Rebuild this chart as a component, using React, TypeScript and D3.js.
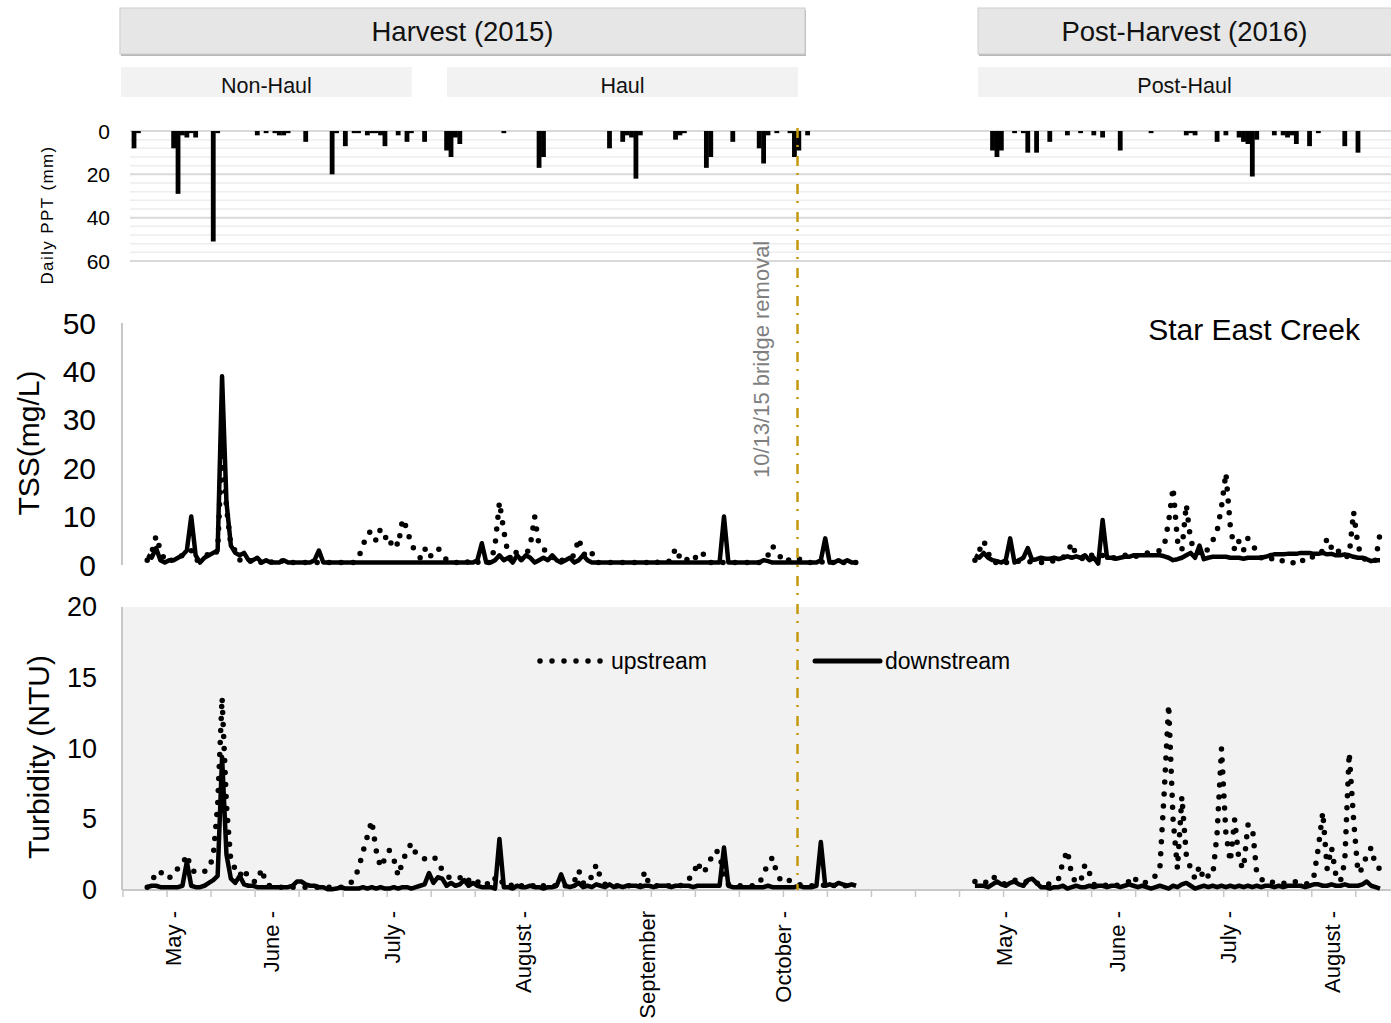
import * as d3 from 'd3';

const FONT = "'Liberation Sans', Arial, Helvetica, sans-serif";

// Excel style category axis: one slot per sampling day, both seasons share it
const dayCount = 288;
const first2015 = 5;
const first2016 = 193;

// TSS (mg/L), 2015 season, one value per day slot from first2015
const tssUp2015 = [
  1, 2.5, 6, 3, 1, 0.5, 1.5, 1.5, 2, 2,
  3, 1, 1, 1.5, 2.5, 2, 3, 25, 12, 4,
  3, 1, 1.5, 1, 0.5, 1, 0.5, 1, 0.5, 1,
  0.5, 1, 0.5, 0.5, 0.5, 0.5, 0.5, 0.5, 0.5, 0.5,
  0.5, 0.5, 0.5, 0.5, 0.5, 0.5, 0.5, 0.5, 1.5, 4,
  6.5, 7, 5, 7.5, 6, 4, 5.5, 4, 9.5, 7.5,
  4, 3, 1.5, 3.5, 1.5, 2.5, 3.5, 2.5, 1, 0.5,
  0.5, 0.5, 1, 0.5, 1, 0.5, 1, 0.5, 0.5, 4,
  13, 7, 2, 1, 3, 1, 2, 4, 10, 4,
  3.5, 2, 1.5, 2, 1, 1, 1.5, 2, 5.5, 2.5,
  1.5, 2.5, 0.5, 0.5, 0.5, 0.5, 0.5, 0.5, 0.5, 0.5,
  0.5, 0.5, 0.5, 0.5, 0.5, 1, 0.5, 0.5, 0.5, 1,
  3.5, 1.5, 2, 0.5, 1, 2, 2.8, 1, 0.5, 0.5,
  0.5, 0.5, 0.5, 0.5, 0.5, 0.5, 0.5, 0.5, 0.5, 0.5,
  1, 2, 4, 2.5, 1.5, 0.5, 1.3, 1, 1.3, 0.5,
  0.5, 0.5, 0.5, 0.5, 1, 0.5, 0.5, 1, 0.5, 0.5,
  0.5, 0.5,
];
const tssDown2015 = [
  2, 1.5, 3.5, 1, 0.5, 1, 1, 1.5, 2, 3,
  10, 2, 0.5, 1.5, 2, 2.5, 3, 39, 13, 4,
  2.5, 2, 2.5, 1, 1, 1.5, 0.5, 1, 0.5, 0.5,
  0.5, 1, 0.5, 0.5, 0.5, 0.5, 0.5, 0.5, 1, 3,
  0.5, 0.5, 0.5, 0.5, 0.5, 0.5, 0.5, 0.5, 0.5, 0.5,
  0.5, 0.5, 0.5, 0.5, 0.5, 0.5, 0.5, 0.5, 0.5, 0.5,
  0.5, 0.5, 0.5, 0.5, 0.5, 0.5, 0.5, 0.5, 0.5, 0.5,
  0.5, 0.5, 0.5, 0.5, 0.5, 1, 4.5, 0.5, 0.5, 1,
  2, 1, 1.5, 0.5, 2, 1, 2, 1.5, 0.5, 1,
  1.5, 1, 2, 1, 0.5, 1, 1.5, 0.5, 1, 2,
  1, 0.5, 0.5, 0.5, 0.5, 0.5, 0.5, 0.5, 0.5, 0.5,
  0.5, 0.5, 0.5, 0.5, 0.5, 0.5, 0.5, 0.5, 0.5, 0.5,
  0.5, 0.5, 0.5, 0.5, 0.5, 0.5, 0.5, 0.5, 0.5, 0.5,
  0.5, 10, 0.5, 0.5, 0.5, 0.5, 0.5, 0.5, 0.5, 0.5,
  1, 0.8, 0.5, 0.5, 0.5, 0.5, 0.5, 0.5, 0.5, 0.5,
  0.5, 0.5, 0.5, 1, 5.5, 0.5, 0.5, 1, 0.5, 1,
  0.5, 0.5,
];
// Turbidity (NTU), 2015
const turbUp2015 = [
  0.2, 0.5, 1.3, 1.3, 0.9, 0.8, 1.4, 1.5, 1.8, 2.5,
  1.5, 1.2, 1.3, 1.3, 1.5, 2.4, 6, 13.6, 6, 2,
  1.5, 1, 1.5, 0.8, 0.6, 0.6, 1.5, 0.4, 0.3, 0.3,
  0.2, 0.2, 0.2, 0.2, 0.2, 0.2, 0.2, 0.2, 0.2, 0.2,
  0.2, 0.2, 0.2, 0.2, 0.2, 0.2, 0.4, 0.8, 1.5, 2.7,
  3.8, 4.9, 2.8, 1.6, 2.2, 2.8, 2.2, 1, 2, 2.8,
  3.3, 2.6, 2.5, 2.2, 2.3, 2.4, 2, 1.4, 1, 0.8,
  0.8, 0.9, 0.5, 0.7, 0.4, 0.6, 0.3, 0.5, 0.3, 0.8,
  1, 0.3, 0.4, 0.3, 0.5, 0.3, 0.4, 0.3, 0.3, 0.5,
  0.3, 0.4, 0.3, 0.3, 0.5, 0.3, 0.4, 0.6, 1.4, 0.5,
  0.4, 1, 1.8, 0.8, 0.4, 0.3, 0.3, 0.3, 0.3, 0.3,
  0.3, 0.4, 0.3, 1.3, 0.4, 0.3, 0.3, 0.3, 0.3, 0.3,
  0.3, 0.3, 0.4, 0.8, 1, 2, 1.2, 1.5, 2.2, 2.8,
  2.6, 0.8, 0.4, 0.3, 0.3, 0.3, 0.3, 0.3, 0.3, 0.4,
  1.2, 1.8, 2.3, 1.2, 0.6, 0.5, 0.7, 0.5, 0.4, 0.3,
  0.3, 0.3, 0.3, 0.4, 0.3, 0.5, 0.3, 0.4, 0.3, 0.3,
  0.4, 0.3,
];
const turbDown2015 = [
  0.2, 0.3, 0.3, 0.2, 0.2, 0.2, 0.2, 0.2, 0.3, 2,
  0.3, 0.2, 0.2, 0.3, 0.5, 0.7, 1, 9.4, 2.5, 0.8,
  0.5, 1, 0.4, 0.3, 0.3, 0.2, 0.2, 0.2, 0.2, 0.2,
  0.2, 0.2, 0.2, 0.3, 0.6, 0.6, 0.4, 0.3, 0.3, 0.2,
  0.2, 0.05, 0.05, 0.1, 0.2, 0.1, 0.1, 0.1, 0.1, 0.2,
  0.1, 0.2, 0.1, 0.2, 0.1, 0.1, 0.2, 0.1, 0.2, 0.2,
  0.1, 0.2, 0.3, 0.4, 1.2, 0.5, 0.9, 0.8, 0.3, 0.5,
  0.3, 0.4, 0.7, 0.3, 0.5, 0.3, 0.2, 0.2, 0.2, 0.1,
  3.6, 0.2, 0.2, 0.1, 0.3, 0.2, 0.2, 0.3, 0.2, 0.2,
  0.1, 0.2, 0.2, 0.3, 1.1, 0.3, 0.2, 0.3, 0.5, 0.2,
  0.3, 0.2, 0.4, 0.3, 0.2, 0.4, 0.2, 0.3, 0.2, 0.3,
  0.3, 0.3, 0.2, 0.3, 0.3, 0.2, 0.3, 0.3, 0.3, 0.2,
  0.3, 0.3, 0.3, 0.3, 0.2, 0.3, 0.3, 0.3, 0.3, 0.3,
  0.3, 3, 0.3, 0.2, 0.2, 0.2, 0.2, 0.2, 0.2, 0.2,
  0.2, 0.3, 0.2, 0.2, 0.2, 0.2, 0.2, 0.2, 0.3, 0.2,
  0.2, 0.2, 0.3, 3.4, 0.3, 0.4, 0.3, 0.5, 0.4, 0.3,
  0.4, 0.3,
];

// 2016 season, one value per day slot from first2016
const tssUp2016 = [
  1, 3, 5, 2.5, 0.5, 0.5, 1, 0.5, 0.5, 0.5,
  0.8, 0.5, 0.5, 0.8, 0.5, 0.5, 0.8, 0.5, 1, 1,
  1.5, 2.5, 4.5, 2, 1.5, 1, 2, 2, 1.5, 2,
  1.5, 1.5, 1.5, 1.5, 2, 2, 1.5, 2, 2, 2.5,
  2.5, 2.8,
  3, 4, 9, 16, 5, 3, 12.5, 5, 3,
  2.5, 2, 3.5, 5, 7, 12, 19, 8, 3, 5,
  3, 5.5, 4.5, 2.5, 1.5, 1, 1.5, 1, 0.5, 1,
  0.5, 0.3, 1, 0.5, 1.5, 2, 1.5, 2, 3, 5.5,
  3.5, 4, 2, 1.5, 2, 11, 4, 1.5, 1, 0.5, 1, 6.5,
];
const tssDown2016 = [
  2, 1.5, 2.5, 1.5, 1, 0.8, 0.5, 1, 5.5, 0.5,
  1, 1.5, 3.5, 1, 1.2, 1.5, 1.3, 1.3, 1.5, 1.2,
  1.5, 1.8, 1.5, 1.8, 1.5, 2, 1, 1.5, 0.3, 9.3,
  1.5, 1.5, 1.3, 1.5, 1.7, 1.7, 2, 2, 2, 2,
  2, 2,
  2, 1.8, 1.5, 1, 1.2, 1.5, 2, 2.5, 1.5,
  4, 1.2, 1.5, 1.7, 1.7, 1.7, 1.7, 1.5, 1.5, 1.5,
  1.3, 1.5, 1.5, 1.5, 1.5, 1.7, 2, 2.2, 2.2, 2.2,
  2.3, 2.3, 2.3, 2.5, 2.5, 2.5, 2.3, 2.3, 2.5, 2.2,
  2.3, 2, 2, 2.2, 2, 1.7, 1.5, 1.5, 1.2, 0.8, 1, 1,
];
const turbUp2016 = [
  0.6, 0.4, 0.5, 0.6, 1, 0.7, 0.5, 0.4, 0.5, 0.7,
  0.6, 0.7, 0.5, 0.6, 0.5, 0.4, 0.5, 0.4, 0.5, 0.8,
  2, 2.8, 1, 0.5, 0.6, 1.8, 1.2, 0.4, 0.3, 0.4,
  0.3, 0.4, 0.3, 0.4, 0.5, 0.6, 1, 0.5, 0.6, 0.5,
  0.7, 1,
  1.5, 7, 13.1, 5, 1.5, 6.6, 2.5, 1.5, 0.8,
  1.7, 0.7, 1, 1, 4, 10, 4, 2, 5, 2,
  1.5, 4.6, 4.5, 1.2, 0.8, 0.5, 0.6, 0.5, 0.4, 0.5,
  0.4, 0.5, 0.6, 0.5, 0.4, 0.5, 1, 3, 5.5, 1.5,
  3, 1, 0.6, 2, 9.7, 5, 1.2, 1.5, 2.5, 3, 1.7, 1.5,
];
const turbDown2016 = [
  0.3, 0.3, 0.3, 0.2, 0.4, 0.6, 0.4, 0.3, 0.5, 0.6,
  0.4, 0.3, 0.7, 0.8, 0.5, 0.2, 0.2, 0.1, 0.2, 0.2,
  0.3, 0.1, 0.2, 0.3, 0.2, 0.2, 0.3, 0.2, 0.3, 0.3,
  0.2, 0.3, 0.3, 0.2, 0.3, 0.4, 0.3, 0.2, 0.3, 0.2,
  0.1, 0.2,
  0.3, 0.2, 0.1, 0.3, 0.2, 0.4, 0.5, 0.3, 0.1,
  0.2, 0.3, 0.2, 0.3, 0.2, 0.3, 0.2, 0.3, 0.2, 0.3,
  0.2, 0.3, 0.2, 0.3, 0.2, 0.3, 0.3, 0.2, 0.3, 0.2,
  0.3, 0.3, 0.3, 0.3, 0.2, 0.3, 0.4, 0.4, 0.3, 0.3,
  0.4, 0.3, 0.3, 0.4, 0.3, 0.3, 0.3, 0.4, 0.6, 0.3, 0.2, 0.1,
];

// daily precipitation (mm): day slot and amount, rainy days only
const pptDay = [
  2, 3, 11, 12, 13, 14, 15, 16, 20, 21,
  30, 32, 34, 35, 36, 37, 41, 47, 48, 50,
  52, 53, 55, 56, 57, 58, 59, 62, 64, 65,
  68, 73, 74, 75, 76, 86, 94, 95, 110, 113,
  114, 115, 116, 117, 125, 126, 127, 132, 133, 138,
  144, 145, 146, 148, 151, 152, 153, 155,
  197, 198, 199, 202, 204, 205, 207, 210, 214, 217,
  220, 222, 226, 233, 241, 242, 243, 248, 250, 253,
  254, 255, 256, 257, 261, 263, 264, 265, 266, 269,
  271, 277, 280,
];
const pptMm = [
  8, 1, 8, 29, 2, 3, 1, 3, 51, 1,
  2, 1, 1, 2, 2, 1, 5, 20, 1, 7,
  1, 1, 2, 1, 1, 2, 7, 2, 5, 1,
  5, 9, 12, 3, 6, 1, 17, 12, 8, 5,
  2, 3, 22, 2, 4, 2, 1, 17, 12, 5,
  8, 15, 2, 1, 1, 12, 9, 2,
  9, 12, 9, 1, 1, 10, 10, 5, 2, 1,
  2, 3, 9, 1, 2, 1, 2, 5, 2, 3,
  5, 6, 21, 4, 2, 2, 3, 2, 6, 7,
  1, 7, 10,
];

const monthNames2015 = ['May -', 'June -', 'July -', 'August -', 'September', 'October -'];
const monthDay2015 = [11.4, 33.8, 61.1, 90.9, 119.2, 150.1];
const monthNames2016 = ['May -', 'June -', 'July -', 'August -'];
const monthDay2016 = [200.3, 225.8, 251.2, 274.8];

const bridgeDay = 153.2;

const periodNames = ['Harvest (2015)', 'Post-Harvest (2016)'];
const periodDays = [[-0.7, 154.9], [194.2, 292]];
const phaseNames = ['Non-Haul', 'Haul', 'Post-Haul'];
const phaseDays = [[-0.45, 65.6], [73.6, 153.3], [194.2, 292]];

const pptTicks = [0, 20, 40, 60];
const tssTicks = [0, 10, 20, 30, 40, 50];
const turbTicks = [0, 5, 10, 15, 20];

export default function App() {
  const W = 1391;
  const H = 1023;

  const x = d3.scaleLinear().domain([0, dayCount]).range([123, 1391]);
  const yPpt = d3.scaleLinear().domain([0, 60]).range([131, 261]);
  const yTss = d3.scaleLinear().domain([0, 50]).range([565, 323]);
  const yTurb = d3.scaleLinear().domain([0, 20]).range([890, 607]);

  const mkLine = (first, y) =>
    d3.line().x((_, i) => x(first + i + 0.5)).y((d) => y(d));

  const seasons = [
    { first: first2015, tssUp: tssUp2015, tssDown: tssDown2015, turbUp: turbUp2015, turbDown: turbDown2015 },
    { first: first2016, tssUp: tssUp2016, tssDown: tssDown2016, turbUp: turbUp2016, turbDown: turbDown2016 },
  ];

  const dotted = {
    fill: 'none', stroke: '#000', strokeWidth: 5.5,
    strokeDasharray: '0 12', strokeLinecap: 'round', strokeLinejoin: 'round',
  };
  const solid = { fill: 'none', stroke: '#000', strokeWidth: 4.5, strokeLinejoin: 'round' };

  const pptMinor = d3.range(0, 61, 4).filter((v) => v % 20 !== 0);
  const axisTicks = d3.range(0, dayCount + 1, 10);
  const barW = 4.8;

  return (
    <svg
      width={W}
      height={H}
      style={{ position: 'absolute', left: 0, top: 0, background: '#fff' }}
      fontFamily={FONT}
    >
      {/* period banners */}
      {periodNames.map((name, i) => {
        const x0 = x(periodDays[i][0]);
        const x1 = x(periodDays[i][1]);
        const cx = (x0 + Math.min(x1, W)) / 2;
        return (
          <g key={name}>
            <rect x={x0 + 1} y={10} width={x1 - x0} height={46} fill="#b8b8b8" />
            <rect x={x0} y={8} width={x1 - x0} height={46} fill="#e6e6e6" stroke="#cdcdcd" />
            <text x={cx} y={41} textAnchor="middle" fontSize={27.5} fill="#111">{name}</text>
          </g>
        );
      })}
      {phaseNames.map((name, i) => {
        const x0 = x(phaseDays[i][0]);
        const x1 = x(phaseDays[i][1]);
        const cx = (x0 + Math.min(x1, W)) / 2;
        return (
          <g key={name}>
            <rect x={x0} y={67} width={x1 - x0} height={30} fill="#f2f2f2" />
            <text x={cx} y={93} textAnchor="middle" fontSize={21.5} fill="#111">{name}</text>
          </g>
        );
      })}

      {/* precipitation panel */}
      {pptMinor.map((v) => (
        <line key={'m' + v} x1={130} x2={W} y1={yPpt(v)} y2={yPpt(v)} stroke="#ededed" strokeWidth={1.5} />
      ))}
      {pptTicks.map((v) => (
        <g key={'p' + v}>
          <line x1={130} x2={W} y1={yPpt(v)} y2={yPpt(v)} stroke="#d9d9d9" strokeWidth={2} />
          <text x={110} y={yPpt(v)} textAnchor="end" dominantBaseline="central" fontSize={21}>{v}</text>
        </g>
      ))}
      {pptDay.map((d, i) => (
        <rect
          key={'b' + i}
          x={x(d + 0.5) - barW / 2}
          y={yPpt(0)}
          width={barW}
          height={yPpt(pptMm[i]) - yPpt(0)}
          fill="#000"
        />
      ))}
      <text
        transform="translate(47,215) rotate(-90)"
        textAnchor="middle"
        dominantBaseline="central"
        fontSize={17}
        letterSpacing={1.4}
      >
        Daily PPT (mm)
      </text>

      {/* TSS panel */}
      <line x1={122} x2={122} y1={yTss(50)} y2={yTss(0)} stroke="#c8c8c8" strokeWidth={2} />
      {tssTicks.map((v) => (
        <text key={'t' + v} x={96} y={yTss(v)} textAnchor="end" dominantBaseline="central" fontSize={30}>{v}</text>
      ))}
      <text transform="translate(28,443) rotate(-90)" textAnchor="middle" dominantBaseline="central" fontSize={30}>
        TSS(mg/L)
      </text>
      <text x={1360} y={340} textAnchor="end" fontSize={30}>Star East Creek</text>
      {seasons.map((s) => (
        <g key={'tss' + s.first}>
          <path d={mkLine(s.first, yTss)(s.tssUp)} style={dotted} />
          <path d={mkLine(s.first, yTss)(s.tssDown)} style={solid} />
        </g>
      ))}

      {/* turbidity panel */}
      <rect x={x(0)} y={yTurb(20)} width={W - x(0)} height={yTurb(0) - yTurb(20)} fill="#f2f2f2" />
      <line x1={122} x2={122} y1={yTurb(20)} y2={yTurb(0)} stroke="#c8c8c8" strokeWidth={2} />
      <line x1={122} x2={W} y1={yTurb(0)} y2={yTurb(0)} stroke="#c8c8c8" strokeWidth={2} />
      {axisTicks.map((t) => (
        <line key={'k' + t} x1={x(t)} x2={x(t)} y1={yTurb(0)} y2={yTurb(0) + 7} stroke="#c8c8c8" strokeWidth={1.5} />
      ))}
      {turbTicks.map((v) => (
        <text key={'u' + v} x={97} y={yTurb(v)} textAnchor="end" dominantBaseline="central" fontSize={27}>{v}</text>
      ))}
      <text transform="translate(38,757) rotate(-90)" textAnchor="middle" dominantBaseline="central" fontSize={30}>
        Turbidity (NTU)
      </text>
      {seasons.map((s) => (
        <g key={'turb' + s.first}>
          <path d={mkLine(s.first, yTurb)(s.turbUp)} style={dotted} />
          <path d={mkLine(s.first, yTurb)(s.turbDown)} style={solid} />
        </g>
      ))}

      {/* legend */}
      <path d="M540,661H604" style={dotted} />
      <text x={611} y={661} dominantBaseline="central" fontSize={23}>upstream</text>
      <path d="M815,661H880" style={{ ...solid, strokeWidth: 5, strokeLinecap: 'round' }} />
      <text x={885} y={661} dominantBaseline="central" fontSize={23}>downstream</text>

      {/* month labels */}
      {[...monthNames2015.map((m, i) => [m, monthDay2015[i]]), ...monthNames2016.map((m, i) => [m, monthDay2016[i]])].map(
        ([m, d], i) => (
          <text
            key={'mo' + i}
            transform={`translate(${x(d)},911) rotate(-90)`}
            textAnchor="end"
            dominantBaseline="central"
            fontSize={22}
          >
            {m}
          </text>
        )
      )}

      {/* bridge removal marker */}
      <line
        x1={x(bridgeDay)}
        x2={x(bridgeDay)}
        y1={128}
        y2={yTurb(0)}
        stroke="#c4980f"
        strokeWidth={2.5}
        strokeDasharray="10 7 2 9"
      />
      <text
        transform={`translate(${x(bridgeDay) - 36},478) rotate(-90)`}
        dominantBaseline="central"
        fontSize={22}
        fill="#7f7f7f"
      >
        10/13/15 bridge removal
      </text>
    </svg>
  );
}
